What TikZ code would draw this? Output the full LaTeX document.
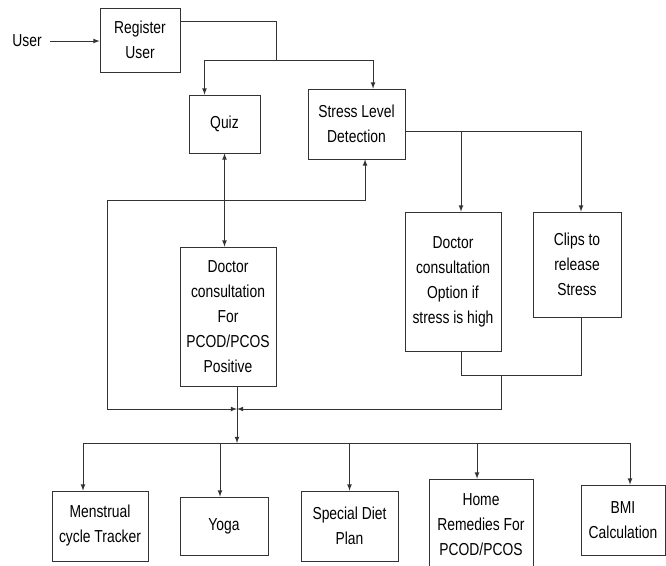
\documentclass[tikz,border=0pt]{standalone}
\usepackage{fontspec}
\setmainfont{Liberation Sans}[FakeStretch=0.8]
\usepackage{tikz}

\tikzset{
  blk/.style={draw=black!80, line width=0.6pt, align=center, inner sep=0pt,
    font=\fontsize{13pt}{18.75pt}\selectfont},
  wire/.style={draw=black!80, line width=0.6pt}
}

\begin{document}
\begin{tikzpicture}[x=0.75pt,y=-0.75pt,>=latex]
\useasboundingbox (0,0) rectangle (666,565);

% top part
\node[font=\fontsize{13pt}{18.75pt}\selectfont] (user) at (27,41) {User};
\node[blk, minimum width=60pt, minimum height=48pt] (reg) at (140,40) {Register\\User};
\node[blk, minimum width=53.25pt, minimum height=43.5pt] (quiz) at (224.5,124) {Quiz};
\node[blk, minimum width=72.75pt, minimum height=52.5pt] (stress) at (356.5,124) {Stress Level\\Detection};

% middle part
\node[blk, minimum width=72pt, minimum height=104.25pt] (doc1) at (228,316.5) {Doctor\\consultation\\For\\PCOD/PCOS\\Positive};
\node[blk, minimum width=72pt, minimum height=104.25pt] (doc2) at (453,281.5) {Doctor\\consultation\\Option if\\stress is high};
\node[blk, minimum width=66pt, minimum height=78.75pt] (clips) at (577,264.5) {Clips to\\release\\Stress};

% bottom row
\node[blk, minimum width=72pt, minimum height=52.5pt] (mens) at (100,526) {Menstrual\\cycle Tracker};
\node[blk, minimum width=66pt, minimum height=43.5pt] (yoga) at (224,526) {Yoga};
\node[blk, minimum width=72.75pt, minimum height=52.5pt] (diet) at (349.5,526) {Special Diet\\Plan};
\node[blk, minimum width=78pt, minimum height=69pt] (home) at (481,525) {Home\\Remedies For\\PCOD/PCOS};
\node[blk, minimum width=63pt, minimum height=52.5pt] (bmi) at (623,520) {BMI\\Calculation};

\coordinate (split) at (276,60);
\coordinate (loop) at (107,200);
\coordinate (merge) at (237,409);
\coordinate (join) at (501,375);
\coordinate (bus) at (237,443);

\begin{scope}[wire]
\draw[->] ([xshift=3pt]user.east) -- (reg.west |- user.east);
\draw ([yshift=-10.5pt]reg.north east) -| (split);
\draw[->] (split) -| ([xshift=-15pt]quiz.north);
\draw[->] (split) -| ([xshift=12.4pt]stress.north);

\draw[<->] (quiz.south) -- (quiz.south |- doc1.north);
\draw[->] (loop) -| ([xshift=6.4pt]stress.south);
\draw[->] (loop) |- (merge);
\draw (doc1.south -| merge) -- (merge);

\draw[->] ([yshift=-5.25pt]stress.east) -| ([xshift=6pt]doc2.north);
\draw[->] ([yshift=-5.25pt]stress.east) -| ([xshift=3pt]clips.north);
\draw ([xshift=6pt]doc2.south) |- (join) -| ([xshift=3pt]clips.south);
\draw[->] (join) |- (merge);

\draw[->] (merge) -- (bus);
\draw[->] (bus) -| ([xshift=-12.75pt]mens.north);
\draw[->] (bus) -| ([xshift=-3pt]yoga.north);
\draw[->] (bus) -| (diet.north);
\draw[->] (bus) -| ([xshift=-3pt]home.north);
\draw[->] (bus) -| ([xshift=5.25pt]bmi.north);
\end{scope}
\end{tikzpicture}
\end{document}
